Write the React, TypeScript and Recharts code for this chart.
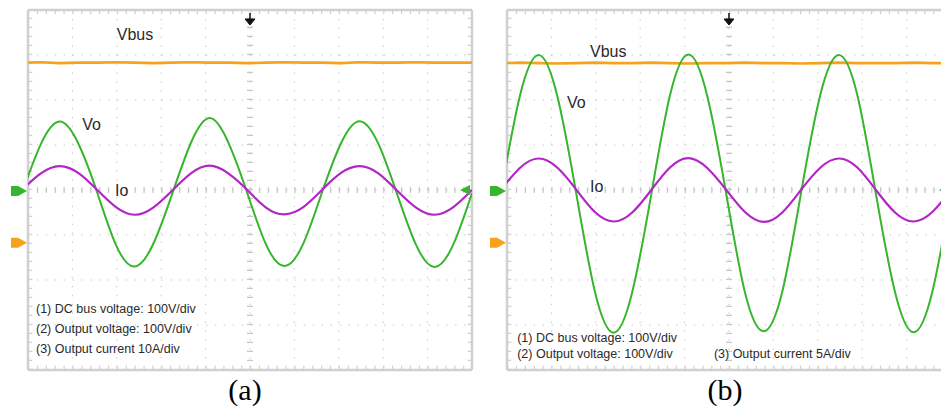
import {
  LineChart,
  Line,
  XAxis,
  YAxis,
  CartesianGrid,
  ReferenceLine,
  ReferenceDot,
} from "recharts";

// time in screen divisions (10 across), values in screen divisions (8 tall)
const TIME = [
  -0.14, 0.29, 0.71, 1.13, 1.56, 1.98, 2.4, 2.82, 3.25, 3.67, 4.09, 4.51, 4.94,
  5.36, 5.78, 6.2, 6.62, 7.05, 7.47, 7.89, 8.31, 8.74, 9.16, 9.58, 10.0,
];

// panel (a)
const VO_A = [
  -0.08, 1.02, 1.52, 1.04, -0.06, -1.22, -1.7, -1.2, -0.08, 1.05, 1.6, 1.06,
  -0.07, -1.21, -1.69, -1.19, -0.06, 1.04, 1.53, 1.03, -0.08, -1.22, -1.71,
  -1.21, -0.07,
];
const IO_A = [
  0.0, 0.37, 0.53, 0.38, 0.0, -0.38, -0.55, -0.39, -0.01, 0.37, 0.54, 0.37, 0.0,
  -0.39, -0.54, -0.38, 0.0, 0.38, 0.53, 0.37, -0.01, -0.39, -0.55, -0.38, 0.0,
];
const VBUS_A = [
  2.83, 2.84, 2.82, 2.83, 2.83, 2.84, 2.83, 2.82, 2.83, 2.84, 2.83, 2.83, 2.82,
  2.83, 2.84, 2.83, 2.83, 2.82, 2.84, 2.83, 2.83, 2.84, 2.83, 2.83, 2.83,
];

// panel (b)
const VO_B = [
  -0.09, 2.09, 3.0, 2.1, -0.08, -2.26, -3.17, -2.27, -0.09, 2.1, 3.01, 2.09,
  -0.1, -2.28, -3.14, -2.26, -0.08, 2.09, 3.0, 2.11, -0.09, -2.27, -3.16, -2.26,
  -0.09,
];
const IO_B = [
  0.0, 0.49, 0.7, 0.5, 0.01, -0.49, -0.7, -0.5, 0.0, 0.5, 0.71, 0.49, 0.0, -0.49,
  -0.71, -0.5, 0.0, 0.49, 0.7, 0.5, 0.0, -0.5, -0.7, -0.49, 0.0,
];
const VBUS_B = [
  2.82, 2.83, 2.82, 2.81, 2.82, 2.83, 2.82, 2.82, 2.83, 2.82, 2.81, 2.82, 2.82,
  2.83, 2.82, 2.82, 2.81, 2.82, 2.83, 2.82, 2.82, 2.82, 2.83, 2.82, 2.82,
];

const GRID_X = [0, 1, 2, 3, 4, 5, 6, 7, 8, 9, 10];
const GRID_Y = [-4, -3, -2, -1, 0, 1, 2, 3, 4];

const NOTES_A = [
  "(1) DC bus voltage: 100V/div",
  "(2) Output voltage: 100V/div",
  "(3) Output current 10A/div",
];
const NOTES_B = [
  "(1) DC bus voltage: 100V/div",
  "(2) Output voltage: 100V/div",
  "(3) Output current 5A/div",
];

const ORANGE = "#f7a21b";
const GREEN = "#36b52d";
const PURPLE = "#b126c4";
const FRAME = "#d0d0d0";
const GRID = "#c6c6c6";
const SANS = "'Liberation Sans', Arial, sans-serif";

type Row = { t: number; vo: number; io: number; vbus: number };
type Txt = { x: number; y: number; text: string; size: number };

const build = (vo: number[], io: number[], vbus: number[]): Row[] =>
  TIME.map((t, i) => ({ t, vo: vo[i], io: io[i], vbus: vbus[i] }));

const textShape = (text: string, size: number) => (p: any) =>
  (
    <text x={p.cx} y={p.cy} fontSize={size} fill="#2a2a2a" fontFamily={SANS}>
      {text}
    </text>
  );

const groundMarker = (color: string) => (p: any) =>
  (
    <polygon
      points={`${p.cx - 17},${p.cy - 4} ${p.cx - 10},${p.cy - 4} ${p.cx - 1},${p.cy + 1} ${p.cx - 10},${p.cy + 6} ${p.cx - 17},${p.cy + 6}`}
      fill={color}
    />
  );

const rightMarker = (p: any) => (
  <polygon
    points={`${p.cx - 2},${p.cy - 5} ${p.cx - 12},${p.cy} ${p.cx - 2},${p.cy + 5}`}
    fill={GREEN}
  />
);

const triggerArrow = (p: any) => (
  <g fill="#111" stroke="#111">
    <line x1={p.cx} y1={p.cy + 3} x2={p.cx} y2={p.cy + 10} strokeWidth={1.5} />
    <polygon points={`${p.cx - 5},${p.cy + 9} ${p.cx + 5},${p.cy + 9} ${p.cx},${p.cy + 15}`} />
  </g>
);

type PanelProps = {
  data: Row[];
  labels: Txt[];
  notes: Txt[];
  orangeGround: number;
};

function Scope({ data, labels, notes, orangeGround }: PanelProps) {
  return (
    <LineChart
      width={480}
      height={380}
      data={data}
      margin={{ top: 10, right: 8, bottom: 10, left: 28 }}
      style={{ overflow: "visible" }}
    >
      <XAxis dataKey="t" type="number" domain={[0, 10]} ticks={GRID_X} allowDataOverflow hide />
      <YAxis type="number" domain={[-4, 4]} ticks={GRID_Y} allowDataOverflow hide />
      <CartesianGrid stroke={GRID} strokeDasharray="1.4 7.5" />

      {/* centre cross with minor ticks */}
      <ReferenceLine y={0} stroke={GRID} strokeWidth={6} strokeDasharray="1.2 7.68" />
      <ReferenceLine x={5} stroke={GRID} strokeWidth={6} strokeDasharray="1.2 7.8" />

      {/* frame with inner ticks */}
      <ReferenceLine y={3.95} stroke={FRAME} strokeWidth={4} strokeDasharray="1.2 7.68" />
      <ReferenceLine y={-3.95} stroke={FRAME} strokeWidth={4} strokeDasharray="1.2 7.68" />
      <ReferenceLine x={0.05} stroke={FRAME} strokeWidth={4} strokeDasharray="1.2 7.8" />
      <ReferenceLine x={9.95} stroke={FRAME} strokeWidth={4} strokeDasharray="1.2 7.8" />
      <ReferenceLine y={4} stroke={FRAME} strokeWidth={2.5} />
      <ReferenceLine y={-4} stroke={FRAME} strokeWidth={2.5} />
      <ReferenceLine x={0} stroke={FRAME} strokeWidth={2.5} />
      <ReferenceLine x={10} stroke={FRAME} strokeWidth={2.5} />

      <Line
        dataKey="vbus"
        type="linear"
        stroke={ORANGE}
        strokeWidth={2.6}
        dot={false}
        activeDot={false}
        isAnimationActive={false}
      />
      <Line
        dataKey="vo"
        type="natural"
        stroke={GREEN}
        strokeWidth={2}
        dot={false}
        activeDot={false}
        isAnimationActive={false}
      />
      <Line
        dataKey="io"
        type="natural"
        stroke={PURPLE}
        strokeWidth={2.2}
        dot={false}
        activeDot={false}
        isAnimationActive={false}
      />

      <ReferenceDot x={5} y={4} r={0} shape={triggerArrow} ifOverflow="visible" />
      <ReferenceDot x={0} y={0} r={0} shape={groundMarker(GREEN)} ifOverflow="visible" />
      <ReferenceDot x={0} y={orangeGround} r={0} shape={groundMarker(ORANGE)} ifOverflow="visible" />
      <ReferenceDot x={10} y={0} r={0} shape={rightMarker} ifOverflow="visible" />

      {labels.map((l, i) => (
        <ReferenceDot key={"l" + i} x={l.x} y={l.y} r={0} shape={textShape(l.text, l.size)} ifOverflow="visible" />
      ))}
      {notes.map((n, i) => (
        <ReferenceDot key={"n" + i} x={n.x} y={n.y} r={0} shape={textShape(n.text, n.size)} ifOverflow="visible" />
      ))}
    </LineChart>
  );
}

const captionStyle: React.CSSProperties = {
  position: "absolute",
  top: 374,
  width: 80,
  textAlign: "center",
  fontFamily: "'Liberation Serif', 'Times New Roman', serif",
  fontSize: 30,
  lineHeight: "32px",
  color: "#000",
};

export default function App() {
  const dataA = build(VO_A, IO_A, VBUS_A);
  const dataB = build(VO_B, IO_B, VBUS_B);

  return (
    <div
      style={{
        position: "absolute",
        left: 0,
        top: 0,
        width: 941,
        height: 412,
        overflow: "hidden",
        background: "#fff",
      }}
    >
      <div style={{ position: "absolute", left: 0, top: 0 }}>
        <Scope
          data={dataA}
          orangeGround={-1.15}
          labels={[
            { x: 2.0, y: 3.33, text: "Vbus", size: 16 },
            { x: 1.22, y: 1.33, text: "Vo", size: 16 },
            { x: 1.96, y: -0.13, text: "Io", size: 16 },
          ]}
          notes={NOTES_A.map((text, i) => ({ x: 0.18, y: -2.73 - i * 0.445, text, size: 12.5 }))}
        />
      </div>
      <div style={{ position: "absolute", left: 479, top: 0 }}>
        <Scope
          data={dataB}
          orangeGround={-1.15}
          labels={[
            { x: 1.87, y: 2.96, text: "Vbus", size: 16 },
            { x: 1.35, y: 1.82, text: "Vo", size: 16 },
            { x: 1.87, y: -0.04, text: "Io", size: 16 },
          ]}
          notes={[
            { x: 0.23, y: -3.38, text: NOTES_B[0], size: 12.5 },
            { x: 0.23, y: -3.73, text: NOTES_B[1], size: 12.5 },
            { x: 4.66, y: -3.73, text: NOTES_B[2], size: 12.5 },
          ]}
        />
      </div>
      <div style={{ ...captionStyle, left: 205 }}>(a)</div>
      <div style={{ ...captionStyle, left: 685 }}>(b)</div>
    </div>
  );
}
